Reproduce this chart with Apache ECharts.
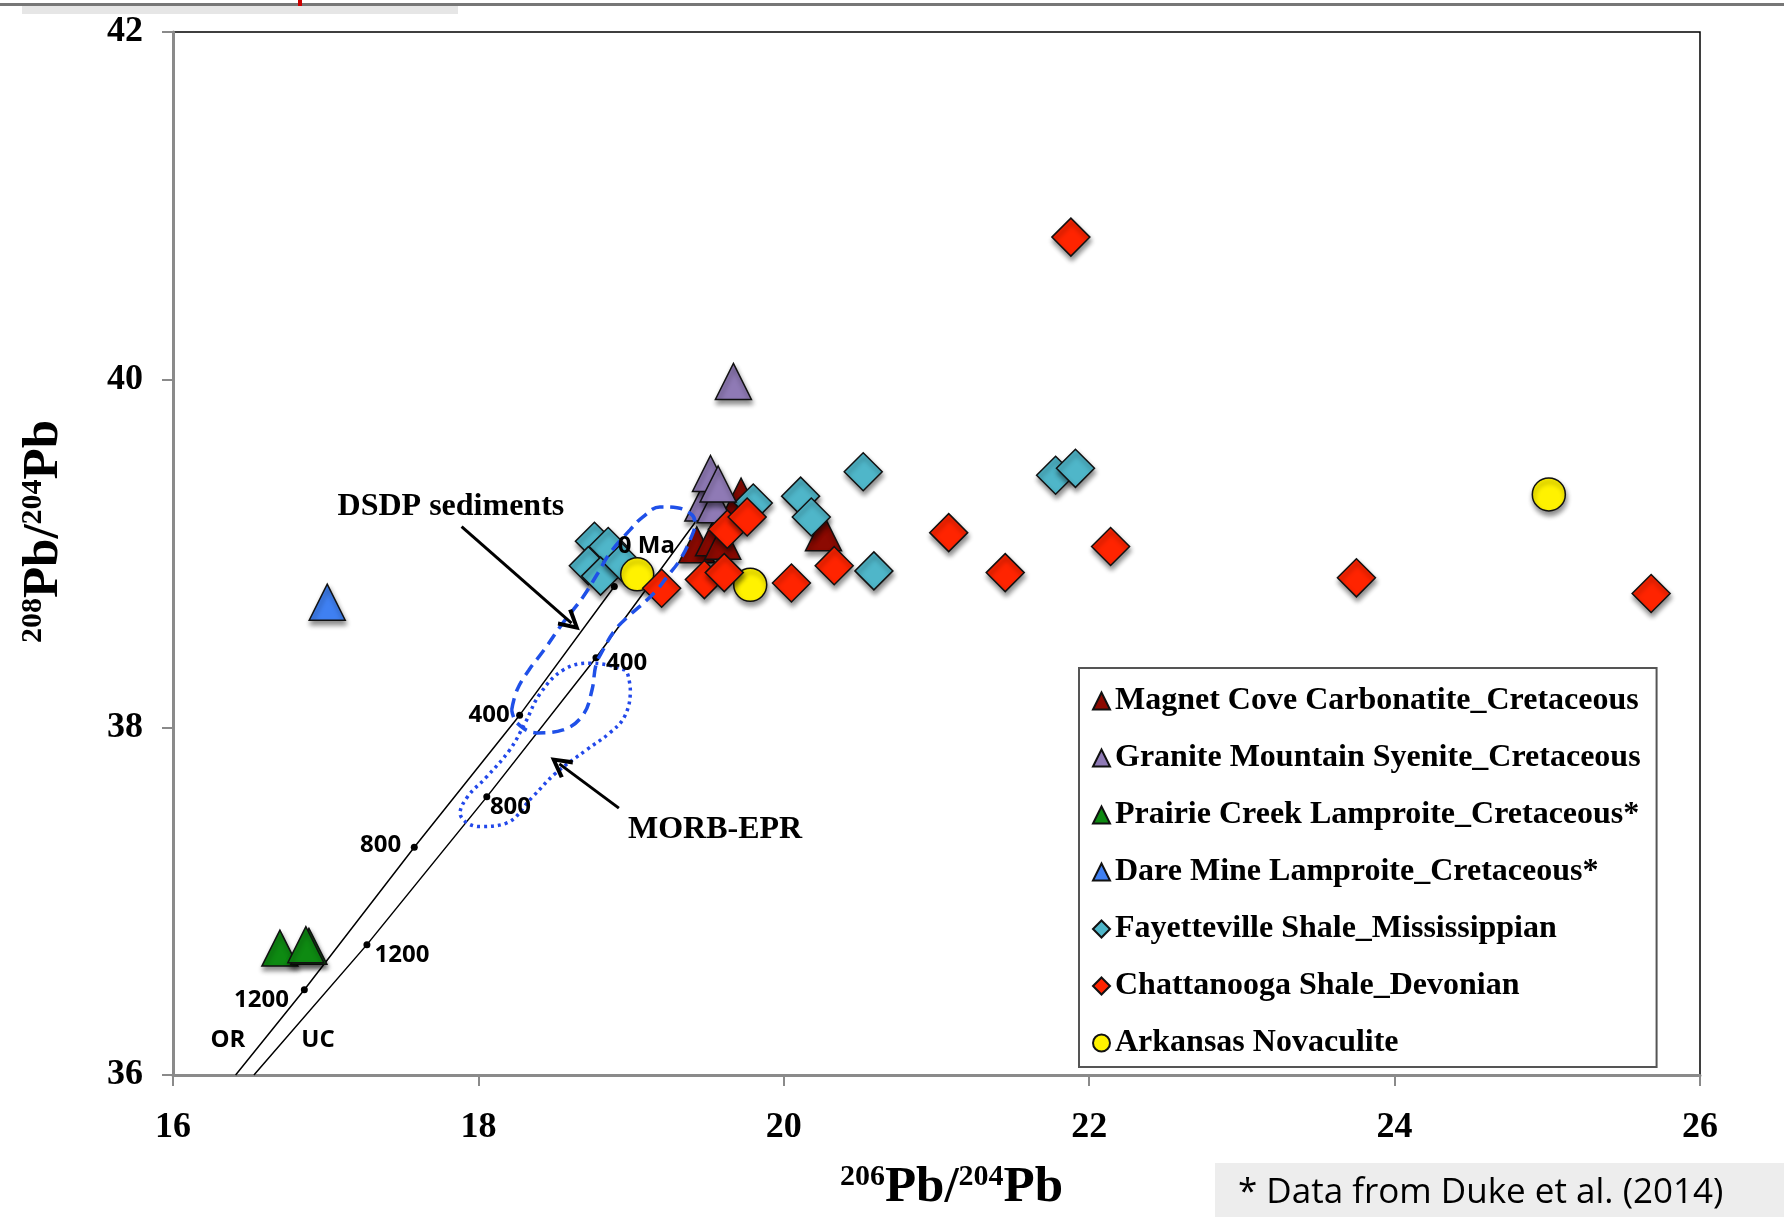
<!DOCTYPE html>
<html>
<head>
<meta charset="utf-8">
<title>Pb isotopes</title>
<script src="https://cdn.jsdelivr.net/npm/echarts@6/dist/echarts.min.js"></script>
<style>
  html, body { margin: 0; padding: 0; background: #fff; }
  #main { width: 1784px; height: 1217px; }
</style>
</head>
<body>
<div id="main"></div>
<script>
// 206Pb/204Pb vs 208Pb/204Pb samples
var magnetCove = [[19.43, 39.05], [19.54, 39.09], [19.60, 39.07], [19.72, 39.33], [20.26, 39.12]];
var graniteMtn = [[19.67, 39.99], [19.47, 39.29], [19.55, 39.28], [19.52, 39.46], [19.57, 39.40]];
var prairieCreek = [[16.70, 36.73], [16.89, 36.74], [16.87, 36.75]];
var dareMine = [[17.01, 38.72]];
var fayetteville = [[18.76, 39.07], [18.85, 39.04], [18.72, 38.93], [18.80, 38.87], [18.94, 38.95],
  [19.80, 39.29], [20.11, 39.33], [20.18, 39.21], [20.52, 39.47], [20.59, 38.90], [21.78, 39.45], [21.91, 39.49]];
var chattanooga = [[19.20, 38.80], [19.48, 38.85], [19.61, 38.89], [19.63, 39.14], [19.76, 39.21],
  [20.05, 38.83], [20.33, 38.93], [21.08, 39.12], [21.45, 38.89], [21.88, 40.82], [22.14, 39.04],
  [23.75, 38.86], [25.68, 38.77]];
var novaculite = [[19.04, 38.88], [19.78, 38.82], [25.01, 39.34]];

// growth curves (orogene, upper crust) with age marks
var orCurve = [[16.41, 36.0], [16.86, 36.49], [17.58, 37.31], [18.27, 38.07], [18.89, 38.81]];
var orDots = [false, true, true, true, true];
var ucCurve = [[16.53, 36.0], [17.27, 36.75], [18.055, 37.60], [18.77, 38.40], [19.42, 39.18]];
var ucDots = [false, true, true, true, false];

// fields
var dsdpField = [[18.218, 38.100], [18.253, 38.215], [18.331, 38.330], [18.430, 38.445], [18.554, 38.601],
  [18.685, 38.750], [18.783, 38.888], [18.862, 39.003], [18.993, 39.136], [19.078, 39.211], [19.189, 39.268],
  [19.301, 39.263], [19.399, 39.222], [19.418, 39.171], [19.386, 39.078], [19.320, 38.963], [19.235, 38.865],
  [19.170, 38.791], [19.104, 38.733], [18.993, 38.647], [18.895, 38.560], [18.816, 38.445], [18.770, 38.359],
  [18.744, 38.215], [18.685, 38.071], [18.554, 37.985], [18.384, 37.968], [18.253, 38.025], [18.218, 38.100]];
var morbField = [[18.982, 38.292], [18.957, 38.330], [18.731, 38.369], [18.556, 38.330], [18.406, 38.196],
  [18.305, 38.024], [18.205, 37.870], [18.055, 37.716], [17.929, 37.601], [17.880, 37.506], [18.004, 37.429],
  [18.180, 37.448], [18.356, 37.601], [18.506, 37.736], [18.707, 37.870], [18.857, 37.966], [18.957, 38.062],
  [18.995, 38.215], [18.982, 38.292]];

// small labels on the diagram
var ageLabels = [[18.07, 38.07, '400'], [18.97, 38.37, '400'], [18.21, 37.54, '800'], [17.36, 37.32, '800'],
  [17.50, 36.69, '1200'], [16.58, 36.43, '1200'], [16.36, 36.20, 'OR'], [16.95, 36.20, 'UC'], [19.10, 39.04, '0 Ma']];
var fieldLabels = [[17.82, 39.27, 'DSDP sediments'], [19.55, 37.41, 'MORB-EPR']];
var arrows = [[[17.89, 39.155], [18.61, 38.60]], [[18.92, 37.535], [18.53, 37.79]]];

var xTicks = [16, 26, 2];
var yTicks = [36, 42, 2];

var serif = '"Liberation Serif", "DejaVu Serif", serif';
var sans = '"Open Sans", "Liberation Sans", sans-serif';

var shadow = {
  borderColor: '#111',
  borderWidth: 1.5,
  shadowBlur: 5,
  shadowColor: 'rgba(0,0,0,0.45)',
  shadowOffsetX: 1,
  shadowOffsetY: 4
};

function pointSeries(name, data, symbol, size, color) {
  return {
    name: name,
    type: 'scatter',
    data: data,
    symbol: symbol,
    symbolSize: size,
    z: 2,
    itemStyle: Object.assign({ color: color, opacity: 1 }, shadow),
    emphasis: { disabled: true }
  };
}

function curveData(pts, dots) {
  return pts.map(function (p, i) {
    return { value: p, symbol: dots[i] ? 'circle' : 'none', symbolSize: 7 };
  });
}

function textSeries(name, data, font, size) {
  return {
    name: name, type: 'scatter', z: 5, silent: true, symbolSize: 1,
    itemStyle: { opacity: 0 },
    data: data,
    label: {
      show: true, position: 'inside',
      formatter: function (p) { return p.value[2]; },
      fontFamily: font, fontWeight: 'bold', fontSize: size,
      color: '#000', opacity: 1, textBorderWidth: 0
    }
  };
}

var axisName = {
  rich: {
    b: { fontFamily: serif, fontWeight: 'bold', fontSize: 51, color: '#000', lineHeight: 58 },
    s: { fontFamily: serif, fontWeight: 'bold', fontSize: 30, color: '#000', lineHeight: 58, padding: [0, 0, 22, 0] }
  }
};

var legendNames = ['Magnet Cove Carbonatite_Cretaceous', 'Granite Mountain Syenite_Cretaceous',
  'Prairie Creek Lamproite_Cretaceous*', 'Dare Mine Lamproite_Cretaceous*', 'Fayetteville Shale_Mississippian',
  'Chattanooga Shale_Devonian', 'Arkansas Novaculite'];

var option = {
  backgroundColor: '#fff',
  animation: false,
  grid: {
    left: 173, right: 84, top: 32, bottom: 142,
    containLabel: false,
    outerBoundsMode: 'none',
    show: true, borderColor: '#000', borderWidth: 1.5
  },
  xAxis: {
    type: 'value',
    min: xTicks[0], max: xTicks[1], interval: xTicks[2],
    name: '{s|206}{b|Pb/}{s|204}{b|Pb}',
    nameLocation: 'middle',
    nameGap: 84,
    nameTextStyle: Object.assign({ padding: [0, 0, 0, 30] }, axisName),
    axisLine: { lineStyle: { color: '#8a8a8a', width: 3 } },
    axisTick: { inside: false, length: 11, lineStyle: { color: '#8a8a8a', width: 2 } },
    axisLabel: { fontFamily: serif, fontWeight: 'bold', fontSize: 36, color: '#000', margin: 35 },
    splitLine: { show: false }
  },
  yAxis: {
    type: 'value',
    min: yTicks[0], max: yTicks[1], interval: yTicks[2],
    name: '{s|208}{b|Pb/}{s|204}{b|Pb}',
    nameLocation: 'middle',
    nameRotate: 90,
    nameGap: 100,
    nameTextStyle: Object.assign({ padding: [0, 0, 0, 44] }, axisName),
    axisLine: { show: true, lineStyle: { color: '#8a8a8a', width: 3 } },
    axisTick: { show: true, inside: false, length: 11, lineStyle: { color: '#8a8a8a', width: 2 } },
    axisLabel: { fontFamily: serif, fontWeight: 'bold', fontSize: 36, color: '#000', margin: 30 },
    splitLine: { show: false }
  },
  legend: {
    data: legendNames,
    orient: 'vertical',
    left: 1079,
    top: 668,
    itemWidth: 17,
    itemHeight: 17,
    itemGap: 25,
    padding: [17, 16, 8, 13],
    backgroundColor: '#fff',
    borderColor: '#555',
    borderWidth: 2,
    selectedMode: false,
    textStyle: { fontFamily: serif, fontWeight: 'bold', fontSize: 32, color: '#000', lineHeight: 32 }
  },
  graphic: [
    { type: 'rect', shape: { x: 0, y: 3, width: 1784, height: 3 }, style: { fill: '#777' } },
    { type: 'rect', shape: { x: 22, y: 6, width: 436, height: 8 }, style: { fill: '#e6e6e6' } },
    { type: 'rect', shape: { x: 298, y: 0, width: 4, height: 6 }, style: { fill: '#c00' } },
    { type: 'rect', shape: { x: 1215, y: 1163, width: 569, height: 54 }, style: { fill: '#ededed' } },
    {
      type: 'text', left: 1238, top: 1176,
      style: { text: '* Data from Duke et al. (2014)', fontFamily: sans, fontSize: 35, fill: '#000' }
    }
  ],
  series: [
    {
      name: 'OR curve', type: 'line', data: curveData(orCurve, orDots),
      lineStyle: { color: '#000', width: 1.5 }, itemStyle: { color: '#000' }, z: 1, silent: true
    },
    {
      name: 'UC curve', type: 'line', data: curveData(ucCurve, ucDots),
      lineStyle: { color: '#000', width: 1.5 }, itemStyle: { color: '#000' }, z: 1, silent: true
    },
    pointSeries(legendNames[0], magnetCove, 'triangle', [36, 36], '#8c0a02'),
    pointSeries(legendNames[4], fayetteville, 'diamond', [38, 38], '#4fb6c9'),
    pointSeries(legendNames[6], novaculite, 'circle', 33, '#fff200'),
    pointSeries(legendNames[1], graniteMtn, 'triangle', [36, 36], '#8f7ab5'),
    pointSeries(legendNames[2], prairieCreek, 'triangle', [36, 36], '#0e8a12'),
    pointSeries(legendNames[3], dareMine, 'triangle', [36, 36], '#3f80f2'),
    pointSeries(legendNames[5], chattanooga, 'diamond', [38, 38], '#ff2400'),
    {
      name: 'DSDP field', type: 'line', data: dsdpField, smooth: 0.4, symbol: 'none', z: 3, silent: true,
      lineStyle: { color: '#1f50e8', width: 3.5, type: [12, 7] }
    },
    {
      name: 'MORB field', type: 'line', data: morbField, smooth: 0.4, symbol: 'none', z: 3, silent: true,
      lineStyle: { color: '#2248ea', width: 3.5, type: [3, 4] }
    },
    {
      name: 'arrows', type: 'lines', coordinateSystem: 'cartesian2d', z: 4, silent: true,
      // open V-shaped arrow head
      symbol: ['none', 'path://M5,0 L10,9 L8.4,10 L5,3.6 L1.6,10 L0,9 Z'],
      symbolSize: [26, 22],
      lineStyle: { color: '#000', width: 3, opacity: 1 },
      data: arrows.map(function (a) { return { coords: a }; })
    },
    textSeries('ages', ageLabels, sans, 24),
    textSeries('fields', fieldLabels, serif, 32)
  ]
};

var chart = echarts.init(document.getElementById('main'));
chart.setOption(option);
</script>
</body>
</html>
